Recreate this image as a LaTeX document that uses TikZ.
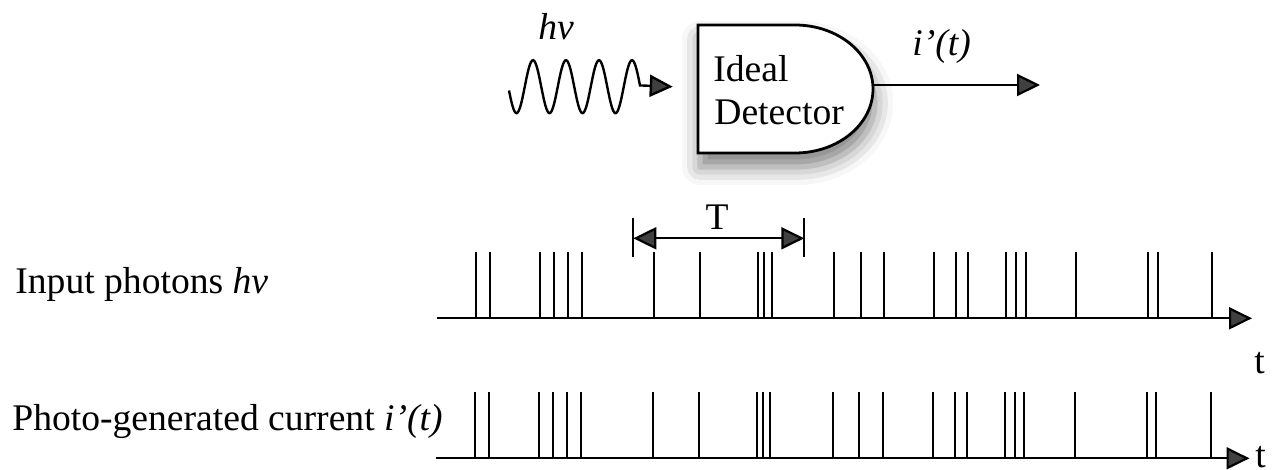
\documentclass[tikz,border=0pt]{standalone}
\usepackage{fontspec}
\setmainfont{Liberation Serif}
\usetikzlibrary{arrows.meta,positioning,shadows.blur}

\begin{document}
\begin{tikzpicture}[x=0.5pt,y=0.5pt,>={Triangle[length=11.5pt,width=11pt]},
  every node/.style={font=\fontsize{18.8}{21.6}\selectfont,inner sep=0pt},
  lbl/.style={anchor=base west},
  pulse/.style={line width=1pt},
  taxis/.style={line width=1.1pt,->}]
\useasboundingbox (0,0) rectangle (1275,-470);
% detector
\path[draw,line width=1.4pt,fill=white,blur shadow={shadow xshift=1pt,shadow yshift=-7pt,shadow blur radius=9pt,shadow opacity=50}]
  (698,-25) -- (795,-25) arc[start angle=90,end angle=-90,x radius=78,y radius=64] -- (698,-153) -- cycle;
\node[lbl] (ideal) at (713,-81.7) {Ideal};
\node[lbl] (detname) at (714,-125) {Detector};
\coordinate (detin) at (672.7,-86.7);
\coordinate (detout) at (873,-85);
\coordinate (iout) at (1040,-85);
\draw[line width=1.1pt,->] (detout) -- (iout);
\node[lbl] (ilabel) at (912,-55.5) {\itshape i’(t)};
% incoming photon
\draw[line width=1.2pt,->] plot[domain=509:640,samples=120,smooth] (\x,{-86.7+26.5*cos((\x-533)*10.909)}) -- (detin);
\node[lbl] (hnu) at (538,-39.3) {\itshape hν};
% time axes
\coordinate (ax1s) at (437,-318.3);
\coordinate (ax1e) at (1252,-318.3);
\coordinate (ax2s) at (436,-458.3);
\coordinate (ax2e) at (1249.5,-458.3);
\draw[taxis] (ax1s) -- (ax1e);
\draw[taxis] (ax2s) -- (ax2e);
\foreach \p in {476.3,490.3,540.3,554.3,568.3,582,654,700.3,758,764.3,771.7,834.3,
  860.7,884,934.3,956.3,968.3,1006.3,1016,1025.7,1076.3,1148.3,1157.7,1212.3} {
  \draw[pulse] (\p,-318.3) -- ++(0,66.6);
  \draw[pulse] (\p-1.3,-458.3) -- ++(0,66.6);
}
% period T
\coordinate (tl) at (633.3,-238.3);
\coordinate (tr) at (804.3,-238.3);
\draw[line width=1.1pt] (tl) ++(0,20.3) -- ++(0,-39.5);
\draw[line width=1.1pt] (tr) ++(0,20.3) -- ++(0,-39.5);
\draw[line width=1.1pt,<->] (tl) -- (tr);
\node[anchor=base] (tlabel) at (717,-230) {T};
% labels
\node[lbl] (inlabel) at (15,-293.3) {Input photons \textit{hν}};
\node[lbl] (curlabel) at (12,-430) {Photo-generated current \textit{i’(t)}};
\node[lbl] (t1) at (1254,-373) {t};
\node[lbl] (t2) at (1255,-467) {t};
\end{tikzpicture}
\end{document}
